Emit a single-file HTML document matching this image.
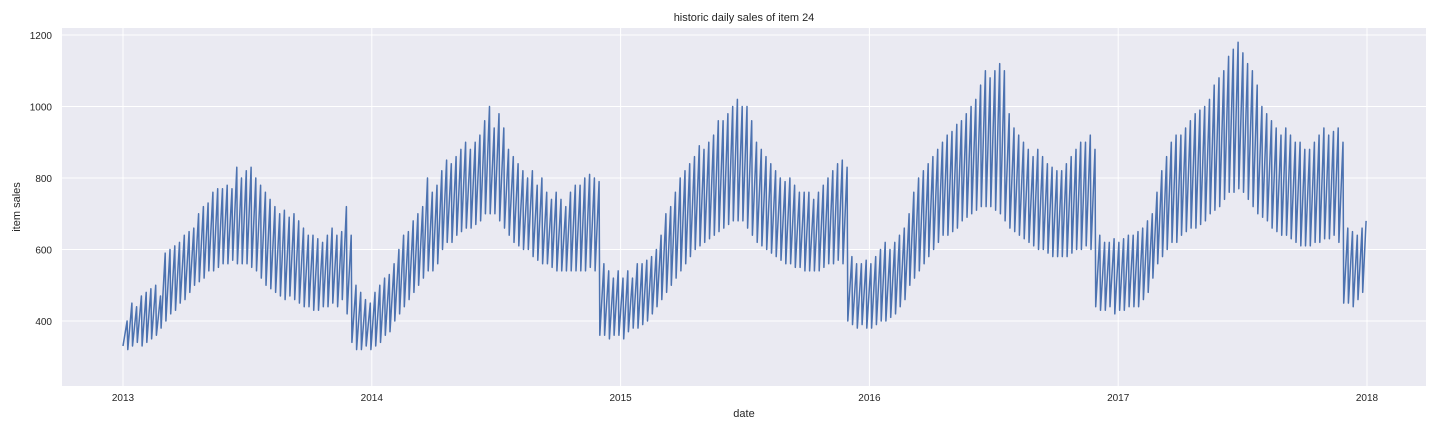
<!DOCTYPE html>
<html><head><meta charset="utf-8">
<style>
html,body{margin:0;padding:0;background:#fff;}
svg{display:block;font-family:"Liberation Sans","DejaVu Sans",sans-serif;}
</style></head>
<body>
<svg id="chart" width="1440" height="432" viewBox="0 0 1440 432">
  <rect x="62" y="28" width="1364" height="358" fill="#EAEAF2"/>
  <g id="grid"></g>
  <g id="series"></g>
  <g id="ticks"></g>
  <text x="744" y="21" text-anchor="middle" font-size="11" fill="#262626">historic daily sales of item 24</text>
  <text x="744" y="417" text-anchor="middle" font-size="11" fill="#262626">date</text>
  <text x="20" y="207" text-anchor="middle" font-size="11" fill="#262626" transform="rotate(-90 20 207)">item sales</text>
</svg>
<script>
const yTicks = [400, 600, 800, 1000, 1200];
const xTicks = [2013, 2014, 2015, 2016, 2017, 2018];
// weekly peak (end of week) values
const weeklyHigh = [
400,450,440,470,480,490,500,470,590,600,610,620,640,650,660,700,720,730,760,770,770,780,770,830,800,820,830,800,780,760,740,720,700,710,690,700,680,660,640,640,630,620,640,660,640,650,720,640,500,480,460,450,
480,500,520,530,560,600,640,650,680,700,720,800,760,780,820,850,840,860,880,900,880,900,920,960,1000,940,980,940,880,860,840,820,800,820,780,800,760,740,760,740,720,760,780,780,800,810,800,790,560,540,520,540,
520,540,520,560,560,570,580,600,640,700,720,760,800,820,840,860,890,880,900,920,960,960,980,1000,1020,1000,1000,960,900,880,860,840,820,800,790,800,780,760,760,760,740,760,780,800,820,840,850,830,580,560,560,570,
560,580,600,620,600,620,640,660,700,760,800,820,840,860,880,900,920,930,950,960,980,1000,1020,1060,1100,1080,1100,1120,1100,980,940,920,900,880,860,880,860,840,830,820,820,840,860,880,900,900,920,880,640,620,620,630,
620,630,640,640,650,660,680,700,760,820,860,900,920,920,940,960,980,990,1000,1020,1060,1080,1100,1140,1160,1180,1150,1120,1100,1060,1000,980,960,940,920,940,920,900,900,880,880,900,920,940,920,930,940,900,660,650,640,660,680];
// weekly trough (start of week) values
const weeklyLow = [
330,320,330,340,330,340,350,360,380,400,420,430,450,460,480,500,510,520,540,540,550,560,560,570,560,560,560,550,540,520,500,490,480,470,460,470,460,450,440,440,430,430,440,440,450,440,460,420,340,320,320,330,
320,330,340,360,370,400,420,440,460,480,500,520,540,540,560,600,620,620,640,650,660,660,670,680,700,700,700,680,660,640,620,610,600,600,580,570,560,560,550,540,540,540,540,540,540,540,550,540,360,360,350,360,
360,350,370,380,380,390,400,420,440,460,480,500,520,540,560,580,600,610,620,630,640,650,660,670,680,680,680,660,640,620,610,600,590,580,570,560,560,550,550,540,540,540,540,550,560,560,570,560,400,390,380,390,
380,380,390,400,400,410,420,440,460,500,520,540,560,580,600,620,640,640,650,660,680,690,700,710,720,720,720,710,700,680,660,650,640,630,620,610,600,600,590,580,580,580,580,590,600,600,610,600,440,430,430,440,
420,430,430,440,440,440,460,480,520,560,580,600,620,620,640,650,660,660,670,680,700,710,720,740,760,760,770,760,740,720,700,690,680,660,650,640,640,630,620,610,610,610,620,620,630,630,640,620,450,450,440,460,480];

const NS = "http://www.w3.org/2000/svg";
const X0 = 62, X1 = 1426, Y0 = 28, Y1 = 386;
function xScale(yearFrac){ return 123 + (yearFrac - 2013) * 248.8; }
function yScale(v){ return 321 - (v - 400) * 0.3575; }
function dayToYear(d){ return 2013 + d / 365.25; }

const grid = document.getElementById('grid');
const ticks = document.getElementById('ticks');
yTicks.forEach(function(t){
  const l = document.createElementNS(NS,'line');
  l.setAttribute('x1', X0); l.setAttribute('x2', X1);
  l.setAttribute('y1', yScale(t)); l.setAttribute('y2', yScale(t));
  l.setAttribute('stroke','#fff'); l.setAttribute('stroke-width','1');
  
  
  grid.appendChild(l);
  const tx = document.createElementNS(NS,'text');
  tx.setAttribute('x', 52); tx.setAttribute('y', yScale(t) + 4);
  tx.setAttribute('text-anchor','end'); tx.setAttribute('font-size','10'); tx.setAttribute('fill','#262626');
  tx.textContent = t;
  
  
  ticks.appendChild(tx);
});
xTicks.forEach(function(t){
  const l = document.createElementNS(NS,'line');
  l.setAttribute('y1', Y0); l.setAttribute('y2', Y1);
  l.setAttribute('x1', xScale(t)); l.setAttribute('x2', xScale(t));
  l.setAttribute('stroke','#fff'); l.setAttribute('stroke-width','1');
  
  
  grid.appendChild(l);
  const tx = document.createElementNS(NS,'text');
  tx.setAttribute('x', xScale(t)); tx.setAttribute('y', 401);
  tx.setAttribute('text-anchor','middle'); tx.setAttribute('font-size','10'); tx.setAttribute('fill','#262626');
  tx.textContent = t;
  
  
  ticks.appendChild(tx);
});

let pts = [];
const n = Math.min(weeklyHigh.length, weeklyLow.length);
for (let i = 0; i < n; i++) {
  const dStart = i * 7, dEnd = Math.min(i * 7 + 6, 1825);
  pts.push(xScale(dayToYear(dStart)).toFixed(1) + ',' + yScale(weeklyLow[i]).toFixed(1));
  pts.push(xScale(dayToYear(dEnd)).toFixed(1) + ',' + yScale(weeklyHigh[i]).toFixed(1));
}
const line = document.createElementNS(NS,'polyline');
line.setAttribute('points', pts.join(' '));
line.setAttribute('fill','none'); line.setAttribute('stroke','#4C72B0');
line.setAttribute('stroke-width','1.5'); line.setAttribute('stroke-linejoin','round');


document.getElementById('series').appendChild(line);
</script>
</body></html>
